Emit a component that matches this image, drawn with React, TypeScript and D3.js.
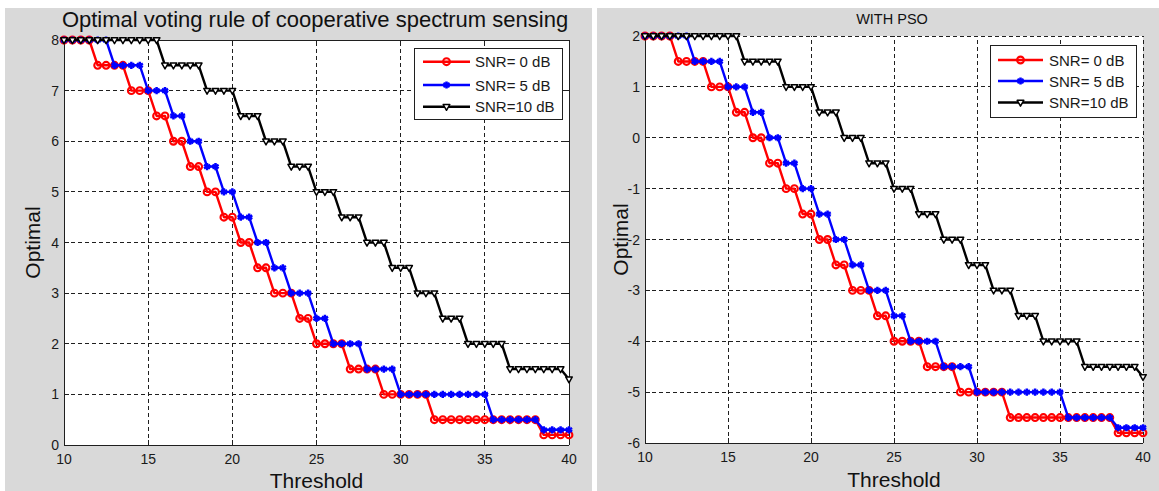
import React, {useEffect, useRef} from 'react';
import * as d3 from 'd3';

// threshold axis (step 0.5)
const thresholds = [
    10, 10.5, 11, 11.5, 12, 12.5, 13, 13.5, 14, 14.5, 15, 15.5, 16, 16.5, 17, 17.5, 18, 18.5, 19, 19.5, 20,
    20.5, 21, 21.5, 22, 22.5, 23, 23.5, 24, 24.5, 25, 25.5, 26, 26.5, 27, 27.5, 28, 28.5, 29, 29.5, 30,
    30.5, 31, 31.5, 32, 32.5, 33, 33.5, 34, 34.5, 35, 35.5, 36, 36.5, 37, 37.5, 38, 38.5, 39, 39.5, 40,
];
const xTicks = [10, 15, 20, 25, 30, 35, 40];
const yTicksLeft = [0, 1, 2, 3, 4, 5, 6, 7, 8];
const yTicksRight = [-6, -5, -4, -3, -2, -1, 0, 1, 2];
const legendLabels = ['SNR= 0 dB', 'SNR= 5 dB', 'SNR=10 dB'];

// left panel
const snr0Left = [
    8, 8, 8, 8, 7.5, 7.5, 7.5, 7.5, 7, 7, 7, 6.5, 6.5, 6, 6, 5.5, 5.5, 5, 5, 4.5, 4.5,
    4, 4, 3.5, 3.5, 3, 3, 3, 2.5, 2.5, 2, 2, 2, 2, 1.5, 1.5, 1.5, 1.5, 1, 1, 1,
    1, 1, 1, 0.5, 0.5, 0.5, 0.5, 0.5, 0.5, 0.5, 0.5, 0.5, 0.5, 0.5, 0.5, 0.5, 0.2, 0.2, 0.2, 0.2,
];
const snr5Left = [
    8, 8, 8, 8, 8, 8, 7.5, 7.5, 7.5, 7.5, 7, 7, 7, 6.5, 6.5, 6, 6, 5.5, 5.5, 5, 5,
    4.5, 4.5, 4, 4, 3.5, 3.5, 3, 3, 3, 2.5, 2.5, 2, 2, 2, 2, 1.5, 1.5, 1.5, 1.5, 1,
    1, 1, 1, 1, 1, 1, 1, 1, 1, 1, 0.5, 0.5, 0.5, 0.5, 0.5, 0.5, 0.3, 0.3, 0.3, 0.3,
];
const snr10Left = [
    8, 8, 8, 8, 8, 8, 8, 8, 8, 8, 8, 8, 7.5, 7.5, 7.5, 7.5, 7.5, 7, 7, 7, 7,
    6.5, 6.5, 6.5, 6, 6, 6, 5.5, 5.5, 5.5, 5, 5, 5, 4.5, 4.5, 4.5, 4, 4, 4, 3.5, 3.5,
    3.5, 3, 3, 3, 2.5, 2.5, 2.5, 2, 2, 2, 2, 2, 1.5, 1.5, 1.5, 1.5, 1.5, 1.5, 1.5, 1.3,
];

// right panel (WITH PSO)
const snr0Right = [
    2, 2, 2, 2, 1.5, 1.5, 1.5, 1.5, 1, 1, 1, 0.5, 0.5, 0, 0, -0.5, -0.5, -1, -1, -1.5, -1.5,
    -2, -2, -2.5, -2.5, -3, -3, -3, -3.5, -3.5, -4, -4, -4, -4, -4.5, -4.5, -4.5, -4.5, -5, -5, -5,
    -5, -5, -5, -5.5, -5.5, -5.5, -5.5, -5.5, -5.5, -5.5, -5.5, -5.5, -5.5, -5.5, -5.5, -5.5, -5.8, -5.8, -5.8, -5.8,
];
const snr5Right = [
    2, 2, 2, 2, 2, 2, 1.5, 1.5, 1.5, 1.5, 1, 1, 1, 0.5, 0.5, 0, 0, -0.5, -0.5, -1, -1,
    -1.5, -1.5, -2, -2, -2.5, -2.5, -3, -3, -3, -3.5, -3.5, -4, -4, -4, -4, -4.5, -4.5, -4.5, -4.5, -5,
    -5, -5, -5, -5, -5, -5, -5, -5, -5, -5, -5.5, -5.5, -5.5, -5.5, -5.5, -5.5, -5.7, -5.7, -5.7, -5.7,
];
const snr10Right = [
    2, 2, 2, 2, 2, 2, 2, 2, 2, 2, 2, 2, 1.5, 1.5, 1.5, 1.5, 1.5, 1, 1, 1, 1,
    0.5, 0.5, 0.5, 0, 0, 0, -0.5, -0.5, -0.5, -1, -1, -1, -1.5, -1.5, -1.5, -2, -2, -2, -2.5, -2.5,
    -2.5, -3, -3, -3, -3.5, -3.5, -3.5, -4, -4, -4, -4, -4, -4.5, -4.5, -4.5, -4.5, -4.5, -4.5, -4.5, -4.7,
];

const FONT = '"Liberation Sans", Arial, Helvetica, sans-serif';
const COLORS = ['#ff0000', '#0000ff', '#000000'];
const MARKERS = ['circle', 'star', 'triangle'];
const AXIS = '#1f1f1f';

const drawMarker = (g, kind, color, cx, cy) => {
    if (kind === 'circle') {
        g.append('circle')
            .attr('cx', cx)
            .attr('cy', cy)
            .attr('r', 3.4)
            .attr('fill', 'none')
            .attr('stroke', color)
            .attr('stroke-width', 2.1);
    } else if (kind === 'star') {
        g.append('path')
            .attr('d', d3.symbol(d3.symbolAsterisk, 36)())
            .attr('transform', `translate(${cx},${cy})`)
            .attr('fill', 'none')
            .attr('stroke', color)
            .attr('stroke-width', 2.5);
    } else {
        g.append('path')
            .attr('d', 'M-3.3,-2.2L3.3,-2.2L0,3.6Z')
            .attr('transform', `translate(${cx},${cy})`)
            .attr('fill', '#fff')
            .attr('stroke', color)
            .attr('stroke-width', 1.5)
            .attr('stroke-linejoin', 'round');
    }
};

const App = () => {
    const svgRef = useRef(null);

    useEffect(() => {
        const svg = d3.select(svgRef.current);
        svg.selectAll('*').remove();

        // figure backgrounds
        svg.append('rect').attr('x', 5).attr('y', 8).attr('width', 587).attr('height', 483).attr('fill', '#d9d9d9');
        svg.append('rect').attr('x', 597).attr('y', 8).attr('width', 562).attr('height', 483).attr('fill', '#d9d9d9');

        const panels = [
            {
                left: 64, right: 569, top: 40, bottom: 445,
                yDomain: [0, 8], yTicks: yTicksLeft,
                series: [snr0Left, snr5Left, snr10Left],
                box: true,
                title: 'Optimal voting rule of cooperative spectrum sensing', titleSize: 22, titleX: 315, titleY: 27,
                legend: {x: 414, y: 48, w: 148, h: 71, rows: [61.7, 85, 106.7], lx1: 423, lx2: 470, tx: 475},
                yLabelX: 40, xLabelY: 488,
            },
            {
                left: 645, right: 1143, top: 36, bottom: 443,
                yDomain: [-6, 2], yTicks: yTicksRight,
                series: [snr0Right, snr5Right, snr10Right],
                box: false,
                title: 'WITH PSO', titleSize: 14.5, titleX: 892, titleY: 24,
                legend: {x: 990, y: 45, w: 146, h: 72, rows: [60, 81, 102.5], lx1: 998, lx2: 1043, tx: 1049},
                yLabelX: 628, xLabelY: 487,
            },
        ];

        panels.forEach((p) => {
            const g = svg.append('g');
            const xScale = d3.scaleLinear().domain([10, 40]).range([p.left, p.right]);
            const yScale = d3.scaleLinear().domain(p.yDomain).range([p.bottom, p.top]);

            g.append('rect')
                .attr('x', p.left)
                .attr('y', p.top)
                .attr('width', p.right - p.left)
                .attr('height', p.bottom - p.top)
                .attr('fill', '#fff');

            // dotted grid
            const grid = g.append('g').attr('stroke', AXIS).attr('stroke-width', 1).attr('stroke-dasharray', '4,3').attr('shape-rendering', 'crispEdges');
            grid.selectAll('.vg')
                .data(xTicks)
                .join('line')
                .attr('x1', (d) => xScale(d))
                .attr('x2', (d) => xScale(d))
                .attr('y1', p.bottom)
                .attr('y2', p.top);
            grid.selectAll('.hg')
                .data(p.yTicks)
                .join('line')
                .attr('class', 'hg')
                .attr('x1', p.left)
                .attr('x2', p.right)
                .attr('y1', (d) => yScale(d))
                .attr('y2', (d) => yScale(d));

            // axes + inward ticks
            const ax = g.append('g').attr('stroke', AXIS).attr('stroke-width', 1).attr('shape-rendering', 'crispEdges');
            ax.append('line').attr('x1', p.left).attr('x2', p.left).attr('y1', p.top).attr('y2', p.bottom);
            ax.append('line').attr('x1', p.left).attr('x2', p.right).attr('y1', p.bottom).attr('y2', p.bottom);
            xTicks.forEach((t) => {
                ax.append('line').attr('x1', xScale(t)).attr('x2', xScale(t)).attr('y1', p.bottom).attr('y2', p.bottom - 5);
                if (p.box) ax.append('line').attr('x1', xScale(t)).attr('x2', xScale(t)).attr('y1', p.top).attr('y2', p.top + 5);
            });
            p.yTicks.forEach((t) => {
                ax.append('line').attr('x1', p.left).attr('x2', p.left + 5).attr('y1', yScale(t)).attr('y2', yScale(t));
                if (p.box) ax.append('line').attr('x1', p.right).attr('x2', p.right - 5).attr('y1', yScale(t)).attr('y2', yScale(t));
            });
            if (p.box) {
                ax.append('line').attr('x1', p.left).attr('x2', p.right).attr('y1', p.top).attr('y2', p.top);
                ax.append('line').attr('x1', p.right).attr('x2', p.right).attr('y1', p.top).attr('y2', p.bottom);
            }

            // tick labels
            const lab = g.append('g').attr('font-family', FONT).attr('font-size', 14).attr('fill', '#1a1a1a');
            xTicks.forEach((t) => {
                lab.append('text').attr('x', xScale(t)).attr('y', p.bottom + 18.5).attr('text-anchor', 'middle').text(t);
            });
            p.yTicks.forEach((t) => {
                lab.append('text')
                    .attr('x', p.left - 5)
                    .attr('y', yScale(t) + 5)
                    .attr('text-anchor', 'end')
                    .text(t);
            });

            // series
            p.series.forEach((s, k) => {
                const line = d3
                    .line()
                    .x((d, i) => xScale(thresholds[i]))
                    .y((d) => yScale(d));
                g.append('path')
                    .datum(s)
                    .attr('d', line)
                    .attr('fill', 'none')
                    .attr('stroke', COLORS[k])
                    .attr('stroke-width', 2.4)
                    .attr('stroke-linejoin', 'round');
                const mg = g.append('g');
                s.forEach((v, i) => drawMarker(mg, MARKERS[k], COLORS[k], xScale(thresholds[i]), yScale(v)));
            });

            // legend
            const L = p.legend;
            const lg = g.append('g');
            lg.append('rect')
                .attr('x', L.x)
                .attr('y', L.y)
                .attr('width', L.w)
                .attr('height', L.h)
                .attr('fill', '#fff')
                .attr('stroke', AXIS)
                .attr('shape-rendering', 'crispEdges');
            legendLabels.forEach((name, k) => {
                const ry = L.rows[k];
                lg.append('line').attr('x1', L.lx1).attr('x2', L.lx2).attr('y1', ry).attr('y2', ry).attr('stroke', COLORS[k]).attr('stroke-width', 2.4);
                drawMarker(lg, MARKERS[k], COLORS[k], (L.lx1 + L.lx2) / 2, ry);
                lg.append('text')
                    .attr('x', L.tx)
                    .attr('y', ry + 5.5)
                    .attr('font-family', FONT)
                    .attr('font-size', 15)
                    .attr('fill', '#1a1a1a')
                    .text(name);
            });

            // titles and axis labels
            g.append('text')
                .attr('x', p.titleX)
                .attr('y', p.titleY)
                .attr('text-anchor', 'middle')
                .attr('font-family', FONT)
                .attr('font-size', p.titleSize)
                .attr('fill', '#111')
                .text(p.title);
            g.append('text')
                .attr('x', (p.left + p.right) / 2)
                .attr('y', p.xLabelY)
                .attr('text-anchor', 'middle')
                .attr('font-family', FONT)
                .attr('font-size', 21)
                .attr('fill', '#111')
                .text('Threshold');
            g.append('text')
                .attr('transform', `translate(${p.yLabelX},${(p.top + p.bottom) / 2}) rotate(-90)`)
                .attr('text-anchor', 'middle')
                .attr('font-family', FONT)
                .attr('font-size', 21)
                .attr('fill', '#111')
                .text('Optimal');
        });
    }, []);

    return <svg ref={svgRef} width={1159} height={491} style={{position: 'absolute', left: 0, top: 0}} />;
};

export default App;
